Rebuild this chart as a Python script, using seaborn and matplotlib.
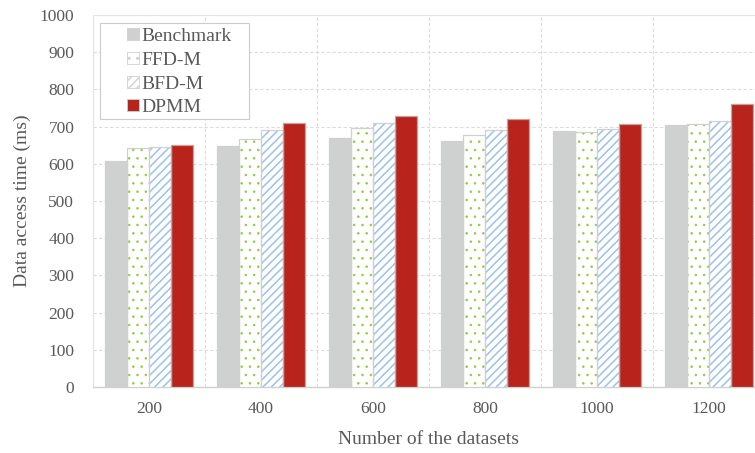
import matplotlib
matplotlib.use("Agg")
import matplotlib.pyplot as plt
from matplotlib.patches import Patch, Rectangle
from matplotlib.legend_handler import HandlerPatch
import seaborn as sns
import pandas as pd

sizes = ["200", "400", "600", "800", "1000", "1200"]
methods = ["Benchmark", "FFD-M", "BFD-M", "DPMM"]
benchmark = [607, 648, 669, 661, 688, 704]
ffd_m = [642, 667, 696, 677, 685, 707]
bfd_m = [645, 691, 710, 691, 693, 715]
dpmm = [650, 710, 728, 720, 707, 761]
yticks = [0, 100, 200, 300, 400, 500, 600, 700, 800, 900, 1000]

series = {"Benchmark": benchmark, "FFD-M": ffd_m, "BFD-M": bfd_m, "DPMM": dpmm}
rows = []
for m in methods:
    for s, v in zip(sizes, series[m]):
        rows.append({"size": s, "method": m, "time": v})
df = pd.DataFrame(rows)

sns.set_theme(style="white")
plt.rcParams["font.family"] = ["Liberation Serif", "DejaVu Serif"]
plt.rcParams["hatch.linewidth"] = 1.0

text_col = "#595959"
grid_col = "#dcdcdc"
edge_gray = "#d0d0d0"

fig = plt.figure(figsize=(7.55, 4.53), dpi=100)
ax = fig.add_axes([93 / 755, 66 / 453, 672 / 755, 372 / 453])

fills = {"Benchmark": "#cfd0d0", "FFD-M": "white", "BFD-M": "white", "DPMM": "#b8241b"}
hatches = {"Benchmark": None, "FFD-M": "..", "BFD-M": "////", "DPMM": None}
hcols = {"Benchmark": "#cfd0d0", "FFD-M": "#8fcf3c", "BFD-M": "#9cc2ec", "DPMM": "#b8241b"}
hlw = {"FFD-M": 0.6, "BFD-M": 1.1}

sns.barplot(data=df, x="size", y="time", hue="method", hue_order=methods,
            order=sizes, palette=fills, saturation=1, width=0.78,
            legend=False, ax=ax, errorbar=None, linewidth=0)

for m, cont in zip(methods, ax.containers):
    for p in cont:
        p.set_edgecolor(hcols[m])
        p.set_linewidth(0)
        if hatches[m]:
            p.set_hatch(hatches[m])
            if hasattr(p, "set_hatch_linewidth"):
                p.set_hatch_linewidth(hlw[m])
        p.set_zorder(3)
        outline = Rectangle(p.get_xy(), p.get_width(), p.get_height(), fill=False,
                            edgecolor=edge_gray if m != "DPMM" else "#c9a09c",
                            linewidth=0.9, zorder=4)
        ax.add_patch(outline)

ax.set_ylim(0, 1000)
ax.set_xlim(-0.5, 5.5)
ax.set_yticks(yticks)
ax.set_yticklabels([str(t) for t in yticks])
ax.set_xticks(range(len(sizes)))
ax.set_xticklabels(sizes)
ax.set_xticks([i + 0.5 for i in range(-1, len(sizes))], minor=True)

ax.grid(axis="y", which="major", color=grid_col, linestyle=(0, (3, 2)), linewidth=0.8, zorder=0)
ax.grid(axis="x", which="minor", color=grid_col, linestyle=(0, (3, 2)), linewidth=0.8, zorder=0)
ax.grid(axis="x", which="major", visible=False)
ax.set_axisbelow(True)

ax.tick_params(axis="both", which="both", length=0, colors=text_col, labelsize=12.5)
ax.tick_params(axis="y", pad=13.5)
ax.tick_params(axis="x", pad=10)

for side in ["left", "top", "right"]:
    ax.spines[side].set_color("#e3e3e3")
    ax.spines[side].set_linewidth(0.8)
ax.spines["bottom"].set_color("#d0d0d0")
ax.spines["bottom"].set_linewidth(1.0)

ax.set_xlabel("Number of the datasets", color=text_col, fontsize=14, labelpad=10)
ax.set_ylabel("Data access time (ms)", color=text_col, fontsize=14, labelpad=6)


def square_handle(legend, orig_handle, xdescent, ydescent, width, height, fontsize):
    s = 12 * 72 / 100
    return Rectangle((width - s - xdescent, (height - s) / 2 - ydescent), s, s)


handles = []
for m in methods:
    handles.append(Patch(facecolor=fills[m], edgecolor=hcols[m] if hatches[m] else fills[m],
                         hatch=hatches[m], linewidth=0, label=m))
leg = ax.legend(handles=handles, loc="upper left", bbox_to_anchor=(0.0313, 0.966),
                frameon=False, fontsize=14,
                handler_map={Patch: HandlerPatch(patch_func=square_handle)},
                handlelength=1.3, handleheight=0.7, handletextpad=0.1,
                labelspacing=0.31, borderpad=0.0, borderaxespad=0.0)
for t in leg.get_texts():
    t.set_color(text_col)
for lp in leg.get_patches():
    lp.set_edgecolor(edge_gray)
    lp.set_linewidth(0.6)

frame = Rectangle((0.0104, 0.7204), 0.2217, 0.2581, transform=ax.transAxes,
                  facecolor="white", edgecolor="#cccccc", linewidth=0.8, zorder=5)
ax.add_patch(frame)
leg.set_zorder(6)

fig.savefig("out.png", dpi=100)
